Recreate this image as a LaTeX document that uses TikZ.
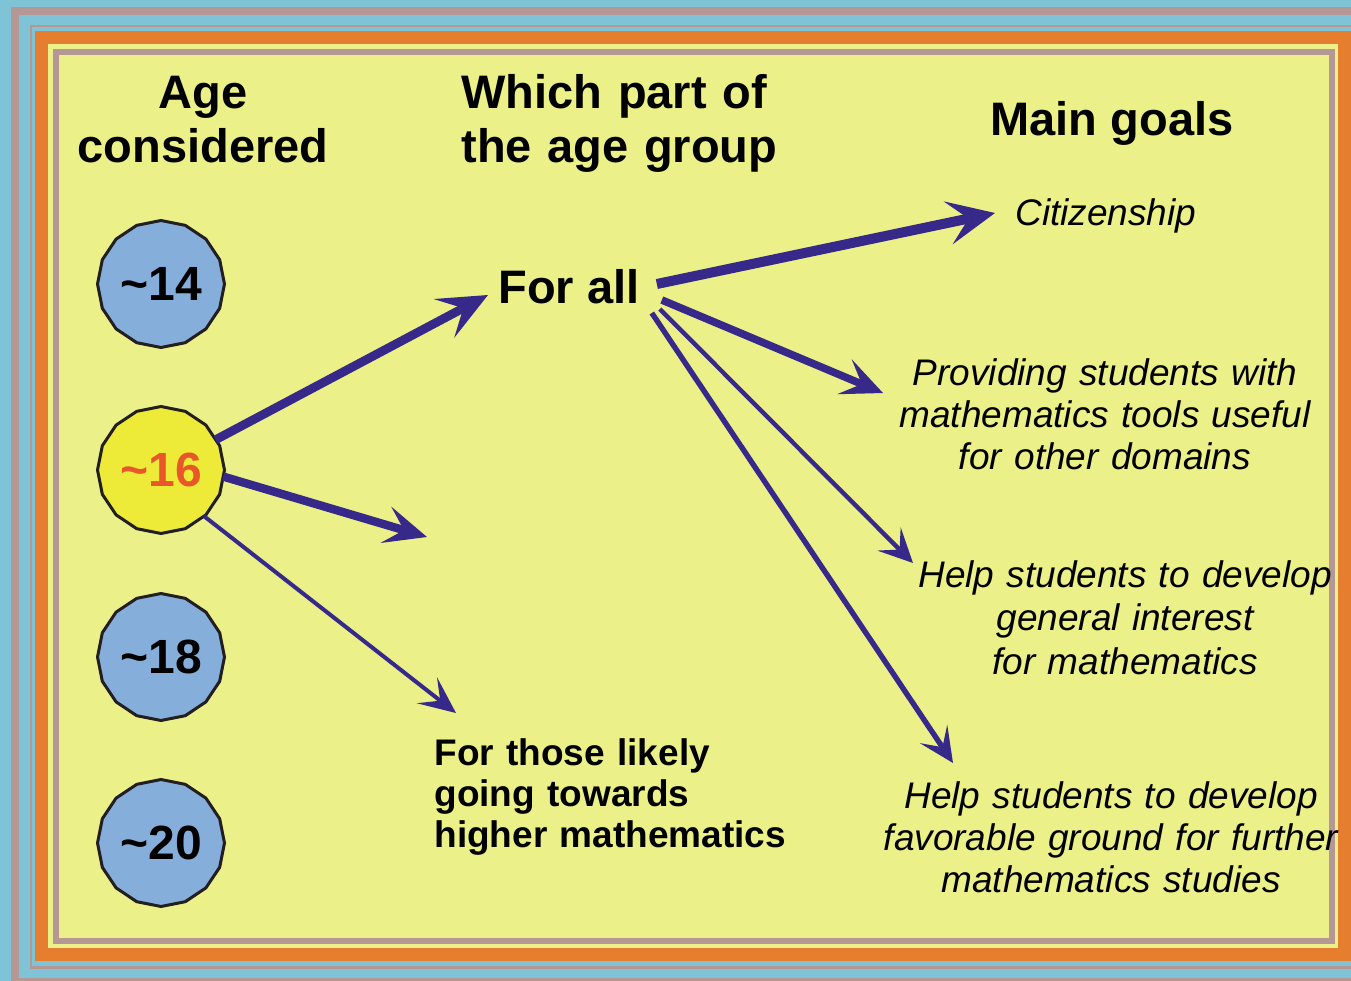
\documentclass[tikz,border=0pt]{standalone}
\usepackage{fontspec}
\setmainfont{Liberation Sans}
\usetikzlibrary{shapes.geometric,arrows.meta}
\definecolor{bgblue}{RGB}{127,195,214}
\definecolor{mauve}{RGB}{181,151,150}
\definecolor{frameorange}{RGB}{230,126,48}
\definecolor{panel}{RGB}{236,240,136}
\definecolor{cblue}{RGB}{133,174,219}
\definecolor{cyellow}{RGB}{237,235,55}
\definecolor{numorange}{RGB}{232,86,42}
\definecolor{arrowc}{RGB}{54,41,138}
\tikzset{
  agepoly/.style={regular polygon, regular polygon sides=16, shape border rotate=11.25,
    minimum size=63.5pt, inner sep=0pt, outer sep=0pt, draw={rgb,255:red,35;green,31;blue,32},
    line width=1.5pt, font=\bfseries\fontsize{24}{27}\selectfont},
  heading/.style={font=\bfseries\fontsize{23.5}{27}\selectfont, inner sep=0pt},
  goaltext/.style={font=\itshape\fontsize{18.5}{21}\selectfont, inner sep=0pt, align=center},
  grouptext/.style={font=\bfseries\fontsize{18.5}{20.7}\selectfont, inner sep=0pt},
  conn/.style={draw=arrowc},
}
\begin{document}
\begin{tikzpicture}[x=0.5pt,y=-0.5pt]
\useasboundingbox (0,0) rectangle (1351,981);
\clip (0,0) rectangle (1351,981);
% frames
\fill[bgblue] (0,0) rectangle (1351,981);
\draw[mauve, line width=4pt] (15,11) rectangle (1385,982);
\draw[mauve, line width=1.25pt] (31,26) rectangle (1362,967.5);
\fill[frameorange] (35,31) rectangle (1351,961);
\fill[panel] (48,44) rectangle (1338,948);
\draw[mauve, line width=3pt] (56,51.5) rectangle (1331.5,940.5);
% headings
\node[heading, anchor=base, text width=150pt, align=center] (hage) at (203,108) {Age\\considered};
\node[heading, anchor=base west, text width=185pt, align=left] (hpart) at (461,108) {Which part of\\the age group};
\node[heading, anchor=base] (hgoal) at (1112,135) {Main goals};
% ages
\node[agepoly, fill=cblue] (n14) at (161,284) {\textasciitilde14};
\node[agepoly, fill=cyellow, text=numorange] (n16) at (161,470) {\textasciitilde16\hspace{4pt}};
\node[agepoly, fill=cblue] (n18) at (161,657) {\textasciitilde18};
\node[agepoly, fill=cblue] (n20) at (161,843) {\textasciitilde20};
% groups
\node[heading, anchor=base west] (forall) at (498,303) {For all};
\node[grouptext, anchor=base west, text width=200pt, align=left] (higher) at (434,765) {For those likely\\going towards\\higher mathematics};
\coordinate (free) at (427,537);
% goals
\node[goaltext, anchor=base west] (cit) at (1015,225) {Citizenship};
\node[goaltext, anchor=base, text width=240pt] (prov) at (1105,385) {Providing students with\\mathematics tools useful\\for other domains};
\node[goaltext, anchor=base, text width=240pt, font=\itshape\fontsize{18.5}{21.8}\selectfont] (interest) at (1125,587) {Help students to develop\\general interest\\for mathematics};
\node[goaltext, anchor=base, text width=250pt, font=\itshape\fontsize{18.5}{21.2}\selectfont] (further) at (1111,808) {Help students to develop\\favorable ground for further\\mathematics studies};
% arrows from ~16
\draw[conn, line width=4.4pt, -{Stealth[length=25pt,width=22pt,inset=11pt,line width=0pt]}]
  (n16.29) -- ([shift={(-10,-8)}]forall.base west);
\draw[conn, line width=4.2pt, -{Stealth[length=21.5pt,width=19pt,inset=9.5pt,line width=0pt]}]
  (n16.-6) -- (free);
\draw[conn, line width=2pt, -{Stealth[length=18.5pt,width=16.5pt,inset=8.5pt,line width=0pt]}]
  (n16.-47) -- ([shift={(22,-52)}]higher.base west);
% arrows from For all
\draw[conn, line width=5pt, -{Stealth[length=24pt,width=22pt,inset=10.5pt,line width=0pt]}]
  ([shift={(17,-19)}]forall.base east) -- ([shift={(-20,-12)}]cit.base west);
\draw[conn, line width=3.8pt, -{Stealth[length=21pt,width=19pt,inset=9.5pt,line width=0pt]}]
  ([shift={(22,-3)}]forall.base east) -- ([shift={(-222,8)}]prov.base);
\draw[conn, line width=2.2pt, -{Stealth[length=17pt,width=16.5pt,inset=7.5pt,line width=0pt]}]
  ([shift={(20,6)}]forall.base east) -- ([shift={(-212,-24)}]interest.base);
\draw[conn, line width=2.7pt, -{Stealth[length=17.5pt,width=16.5pt,inset=8pt,line width=0pt]}]
  ([shift={(12,10)}]forall.base east) -- ([shift={(-158,-45)}]further.base);
\end{tikzpicture}
\end{document}
